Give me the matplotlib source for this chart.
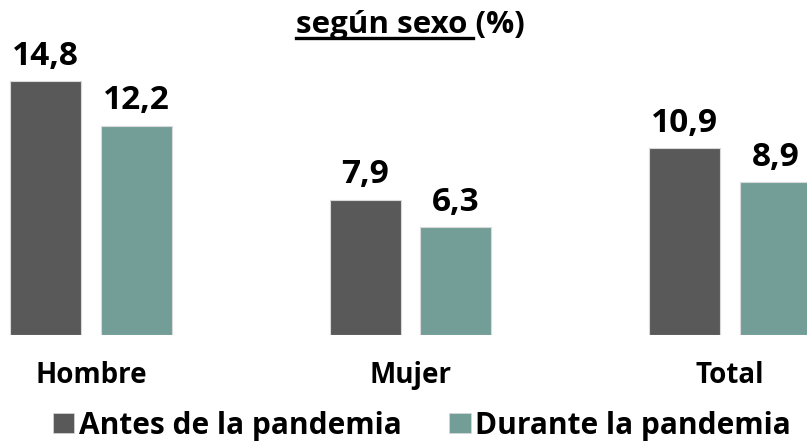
import matplotlib
matplotlib.use("Agg")
import matplotlib.pyplot as plt
from matplotlib.patches import Patch
from matplotlib.lines import Line2D
import numpy as np

plt.rcParams['font.family'] = ['Open Sans', 'DejaVu Sans']
plt.rcParams['font.weight'] = 'bold'

# Data
categorias = ["Hombre", "Mujer", "Total"]
antes = [14.8, 7.9, 10.9]
durante = [12.2, 6.3, 8.9]
series = ["Antes de la pandemia", "Durante la pandemia"]
colores = ["#595959", "#739e98"]

fig = plt.figure(figsize=(8.07, 4.42), dpi=100)
ax = fig.add_axes([0, 0.242, 1, 0.621])

x = np.arange(len(categorias))
w = 0.222
off = 0.142
b1 = ax.bar(x - off, antes, w, color=colores[0], edgecolor="#d9d9d9", linewidth=0.8)
b2 = ax.bar(x + off, durante, w, color=colores[1], edgecolor="#d9d9d9", linewidth=0.8)

for bars in (b1, b2):
    ax.bar_label(bars, labels=[f"{v:.1f}".replace(".", ",") for v in bars.datavalues],
                 padding=6, fontsize=24, fontweight="bold", color="black")

ax.set_xlim(-0.285, 2.241)
ax.set_ylim(0, 16)
ax.set_xticks(x)
ax.set_xticklabels(categorias, fontsize=20, fontweight="bold")
ax.tick_params(axis="x", length=0, pad=19)
ax.set_yticks([])
for s in ax.spines.values():
    s.set_visible(False)

# Title with underline under "según sexo "
t = fig.text(0.508, 0.925, "según sexo (%)", fontsize=22.5, fontweight="bold",
             ha="center", va="baseline")
fig.canvas.draw()
r = fig.canvas.get_renderer()
bb = t.get_window_extent(r)
tmp = fig.text(0, 0, "(%)", fontsize=22.5, fontweight="bold")
wp = tmp.get_window_extent(r).width
tmp.remove()
W, H = fig.bbox.width, fig.bbox.height
y_ul = 0.925 - 0.012
fig.add_artist(Line2D([bb.x0 / W, (bb.x1 - wp - 2) / W], [y_ul, y_ul],
                      color="black", linewidth=2.4, transform=fig.transFigure))

handles = [Patch(facecolor=c, edgecolor="#d9d9d9", linewidth=0.5) for c in colores]
fig.legend(handles, series, loc="center", bbox_to_anchor=(0.523, 0.037), ncol=2,
           frameon=False, prop={"size": 21.5, "weight": "bold"},
           handlelength=0.72, handleheight=0.66, handletextpad=0.15,
           columnspacing=1.6, borderpad=0, borderaxespad=0)

fig.savefig("out.png", dpi=100)
